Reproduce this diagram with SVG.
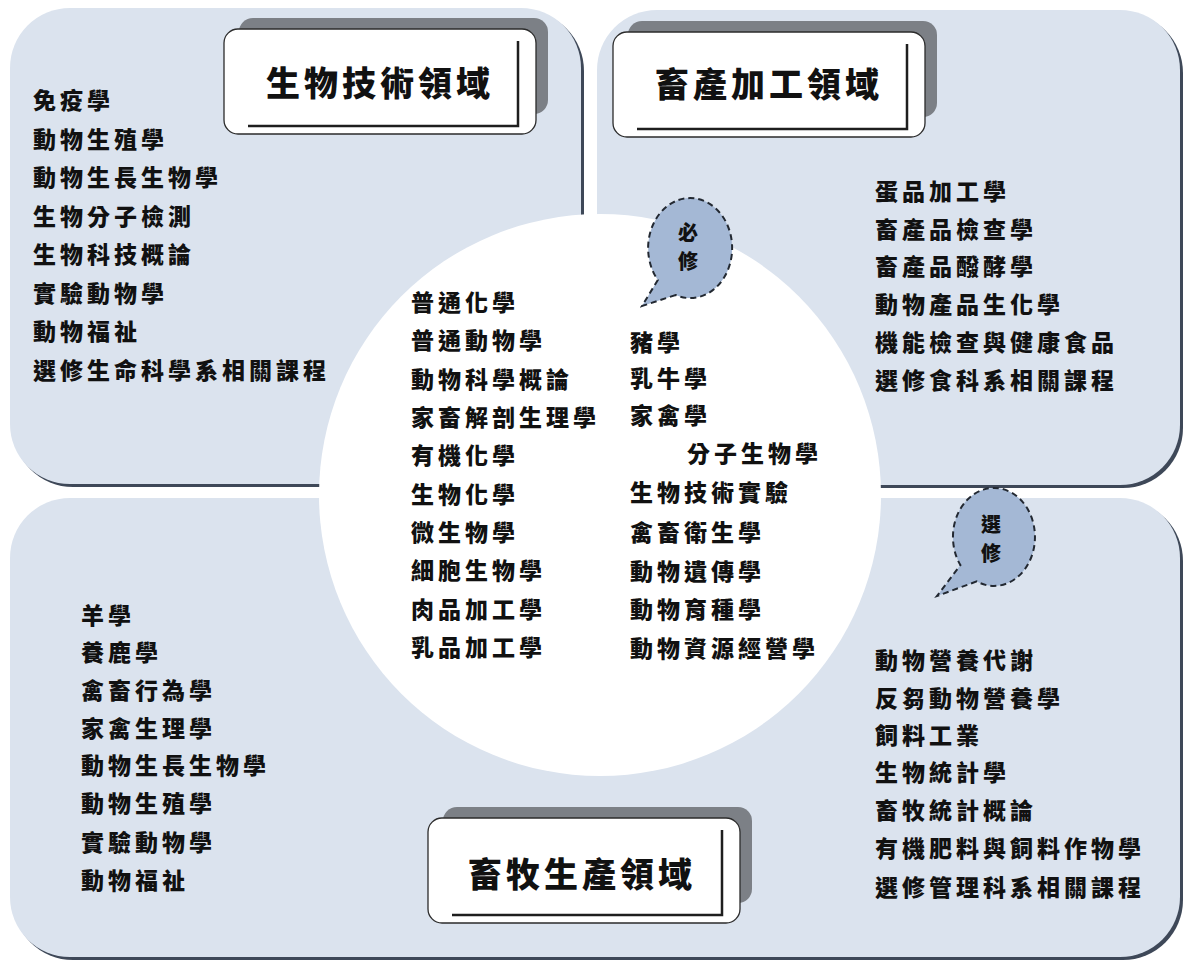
<svg xmlns="http://www.w3.org/2000/svg" width="1189" height="965" viewBox="0 0 1189 965">
<style>
.panel{fill:#dbe3ee}
.pshadow{fill:#3e4858}
.t{font-family:"Noto Sans CJK TC","Noto Sans CJK SC",sans-serif;font-weight:900;fill:#111}
.item{font-size:23px;letter-spacing:4px}
.title{font-size:34px;letter-spacing:4px;text-anchor:middle}
.tbox{fill:#fff;stroke:#2b2b2b;stroke-width:1.3}
.tshadow{fill:#7c8086}
.tline{stroke:#1e1e1e;stroke-width:2.5;fill:none}
.bubble{fill:#a4b8d5;stroke:#222831;stroke-width:2;stroke-dasharray:6 4}
.btext{font-size:20px;text-anchor:middle}
</style>
<rect width="1189" height="965" fill="#ffffff"/>

<g id="panel-biotech">
  <rect class="pshadow" x="13" y="11" width="571" height="476" rx="60"/>
  <rect class="panel" x="10" y="8" width="571" height="476" rx="60"/>
</g>
<g id="panel-processing">
  <rect class="pshadow" x="600" y="13" width="583" height="475" rx="60"/>
  <rect class="panel" x="597" y="10" width="583" height="475" rx="60"/>
</g>
<g id="panel-production">
  <rect class="pshadow" x="13" y="501" width="1170" height="459" rx="60"/>
  <rect class="panel" x="10" y="498" width="1170" height="459" rx="60"/>
</g>

<g id="core-circle">
  <circle cx="600" cy="495" r="281" fill="#ffffff"/>
</g>

<g id="title-biotech">
  <rect class="tshadow" x="239" y="18" width="309" height="96" rx="14"/>
  <rect class="tbox" x="224" y="29" width="312" height="105" rx="14"/>
  <path class="tline" d="M518 41 V126 H248"/>
  <text class="t title" x="380" y="96">生物技術領域</text>
</g>
<g id="title-processing">
  <rect class="tshadow" x="628" y="21" width="309" height="96" rx="14"/>
  <rect class="tbox" x="613" y="32" width="312" height="105" rx="14"/>
  <path class="tline" d="M907 44 V129 H637"/>
  <text class="t title" x="769" y="97">畜產加工領域</text>
</g>
<g id="title-production">
  <rect class="tshadow" x="443" y="807" width="309" height="96" rx="14"/>
  <rect class="tbox" x="428" y="818" width="312" height="105" rx="14"/>
  <path class="tline" d="M722 830 V915 H452"/>
  <text class="t title" x="582" y="887">畜牧生產領域</text>
</g>

<g id="bubble-required">
  <path class="bubble" d="M675.6 295 L642 306 L657.8 280 A42 50 0 1 1 675.6 295 Z"/>
  <text class="t btext" x="688" y="240">必</text>
  <text class="t btext" x="688" y="269">修</text>
</g>
<g id="bubble-elective">
  <path class="bubble" d="M976.7 581.4 L937 596 L960.4 565.1 A41 49 0 1 1 976.7 581.4 Z"/>
  <text class="t btext" x="991" y="532">選</text>
  <text class="t btext" x="991" y="561">修</text>
</g>

<g id="list-biotech" class="t item">
  <text x="33" y="109">免疫學</text>
  <text x="33" y="147.5">動物生殖學</text>
  <text x="33" y="186">動物生長生物學</text>
  <text x="33" y="224.5">生物分子檢測</text>
  <text x="33" y="263">生物科技概論</text>
  <text x="33" y="301.5">實驗動物學</text>
  <text x="33" y="340">動物福祉</text>
  <text x="33" y="378.5">選修生命科學系相關課程</text>
</g>

<g id="list-required-left" class="t item">
  <text x="411" y="311">普通化學</text>
  <text x="411" y="349.3">普通動物學</text>
  <text x="411" y="387.7">動物科學概論</text>
  <text x="411" y="426">家畜解剖生理學</text>
  <text x="411" y="464.3">有機化學</text>
  <text x="411" y="502.7">生物化學</text>
  <text x="411" y="541">微生物學</text>
  <text x="411" y="579.3">細胞生物學</text>
  <text x="411" y="617.7">肉品加工學</text>
  <text x="411" y="656">乳品加工學</text>
</g>

<g id="list-required-right" class="t item">
  <text x="630" y="351">豬學</text>
  <text x="630" y="387">乳牛學</text>
  <text x="630" y="424">家禽學</text>
  <text x="687" y="462">分子生物學</text>
  <text x="630" y="501">生物技術實驗</text>
  <text x="630" y="541">禽畜衛生學</text>
  <text x="630" y="580">動物遺傳學</text>
  <text x="630" y="618">動物育種學</text>
  <text x="630" y="657">動物資源經營學</text>
</g>

<g id="list-processing" class="t item">
  <text x="875" y="200">蛋品加工學</text>
  <text x="875" y="238">畜產品檢查學</text>
  <text x="875" y="275">畜產品醱酵學</text>
  <text x="875" y="313">動物產品生化學</text>
  <text x="875" y="351">機能檢查與健康食品</text>
  <text x="875" y="389">選修食科系相關課程</text>
</g>

<g id="list-production" class="t item">
  <text x="81" y="624">羊學</text>
  <text x="81" y="661">養鹿學</text>
  <text x="81" y="699">禽畜行為學</text>
  <text x="81" y="737">家禽生理學</text>
  <text x="81" y="774">動物生長生物學</text>
  <text x="81" y="812">動物生殖學</text>
  <text x="81" y="851">實驗動物學</text>
  <text x="81" y="889">動物福祉</text>
</g>

<g id="list-elective" class="t item">
  <text x="875" y="669">動物營養代謝</text>
  <text x="875" y="707">反芻動物營養學</text>
  <text x="875" y="744">飼料工業</text>
  <text x="875" y="781">生物統計學</text>
  <text x="875" y="819">畜牧統計概論</text>
  <text x="875" y="857">有機肥料與飼料作物學</text>
  <text x="875" y="896">選修管理科系相關課程</text>
</g>
</svg>
